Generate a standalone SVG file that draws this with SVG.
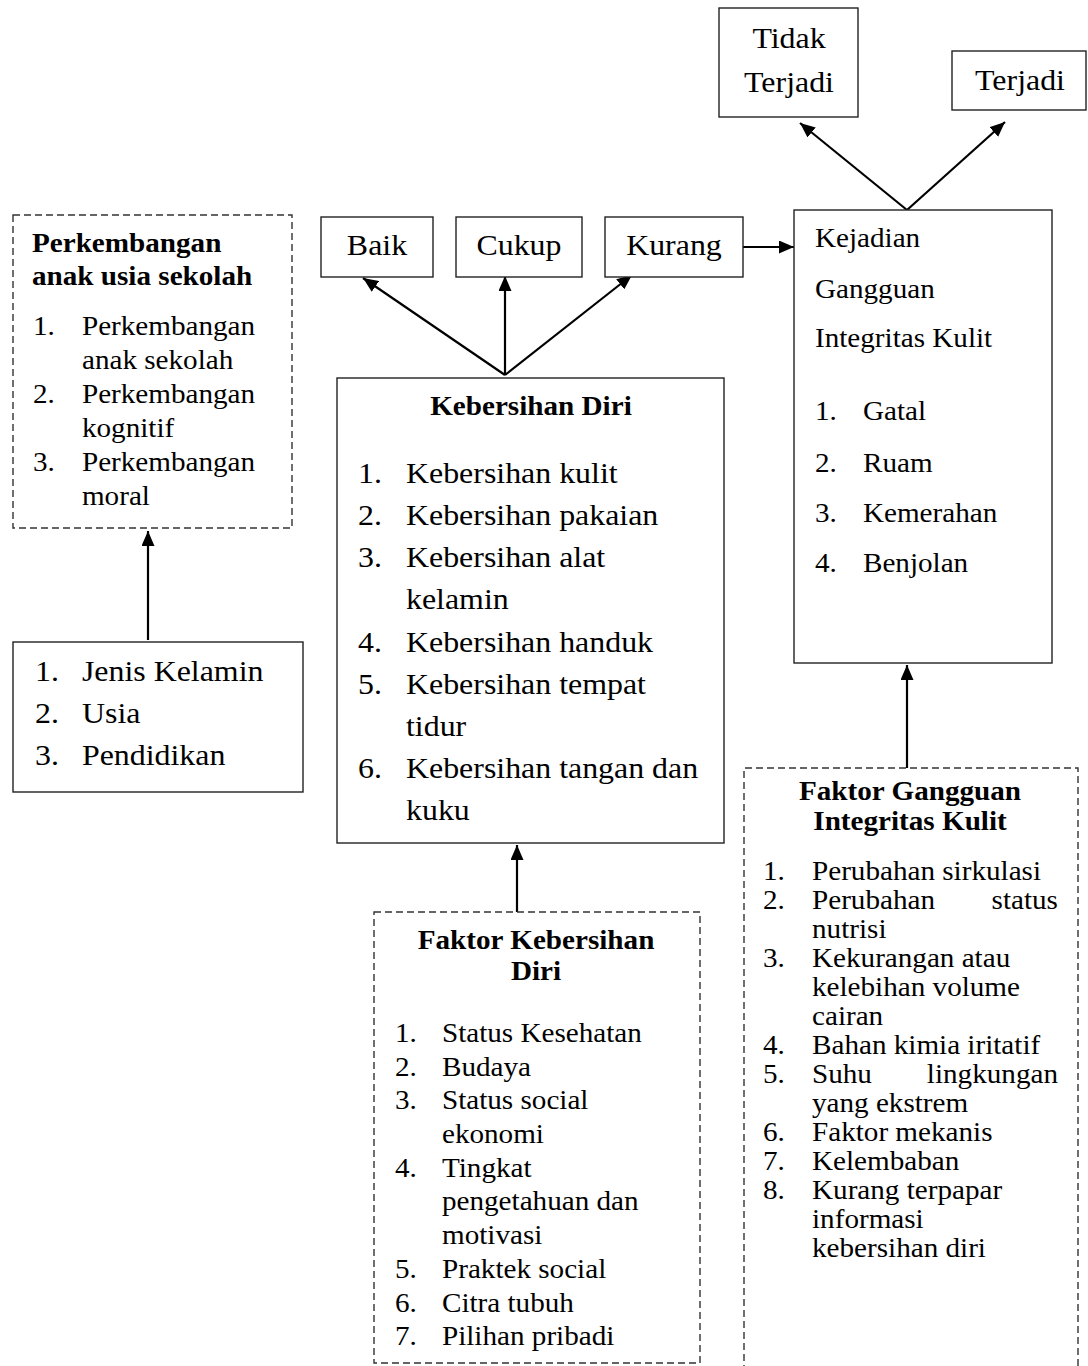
<svg xmlns="http://www.w3.org/2000/svg" width="1088" height="1366" viewBox="0 0 1088 1366">
<style>
.box{fill:#fff;stroke:#222;stroke-width:1.4}
.dash{fill:#fff;stroke:#333;stroke-width:1.4;stroke-dasharray:7 4}
.t{font-family:"Liberation Serif","Times New Roman",serif;fill:#000}
.s29{font-size:29px}
.s26{font-size:26.5px}
.b{font-weight:bold}
.m{text-anchor:middle}
.e{text-anchor:end}
.con{stroke:#000;stroke-width:2.2;fill:none;marker-end:url(#ah)}
</style>
<defs>
<marker id="ah" markerWidth="15" markerHeight="13" refX="15" refY="6.5" orient="auto" markerUnits="userSpaceOnUse">
<path d="M0,0 L15,6.5 L0,13 z" fill="#000"/>
</marker>
</defs>
<rect width="1088" height="1366" fill="#fff"/>

<g id="connectors">
<line class="con" x1="148" y1="640" x2="148" y2="531"/>
<line class="con" x1="505" y1="375" x2="363" y2="278"/>
<line class="con" x1="505" y1="375" x2="505" y2="276"/>
<line class="con" x1="505" y1="375" x2="632" y2="275"/>
<line class="con" x1="743" y1="247" x2="794" y2="247"/>
<line class="con" x1="517" y1="912" x2="517" y2="845"/>
<line class="con" x1="907" y1="768" x2="907" y2="665"/>
<line class="con" x1="907" y1="210" x2="800" y2="123"/>
<line class="con" x1="907" y1="210" x2="1005" y2="122"/>
</g>

<g id="tidak-terjadi">
<rect class="box" x="719" y="8" width="139" height="109"/>
<g transform="scale(1.1 1)" class="t s29 m">
<text x="717.3" y="48">Tidak</text>
<text x="717.3" y="92">Terjadi</text>
</g>
</g>

<g id="terjadi">
<rect class="box" x="952" y="51" width="134" height="59"/>
<g transform="scale(1.1 1)" class="t s29 m">
<text x="927.3" y="90">Terjadi</text>
</g>
</g>

<g id="perkembangan">
<rect class="dash" x="13" y="215" width="279" height="313"/>
<g transform="scale(1.1 1)" class="t s26">
<text class="b" x="29.1" y="252">Perkembangan</text>
<text class="b" x="29.1" y="285">anak usia sekolah</text>
<text x="30" y="335">1.</text><text x="74.5" y="335">Perkembangan</text>
<text x="74.5" y="369">anak sekolah</text>
<text x="30" y="403">2.</text><text x="74.5" y="403">Perkembangan</text>
<text x="74.5" y="437">kognitif</text>
<text x="30" y="471">3.</text><text x="74.5" y="471">Perkembangan</text>
<text x="74.5" y="505">moral</text>
</g>
</g>

<g id="karakteristik">
<rect class="box" x="13" y="642" width="290" height="150"/>
<g transform="scale(1.1 1)" class="t s29">
<text x="31.8" y="681">1.</text><text x="74.5" y="681">Jenis Kelamin</text>
<text x="31.8" y="723">2.</text><text x="74.5" y="723">Usia</text>
<text x="31.8" y="765">3.</text><text x="74.5" y="765">Pendidikan</text>
</g>
</g>

<g id="baik">
<rect class="box" x="321" y="217" width="112" height="60"/>
<g transform="scale(1.1 1)" class="t s29 m"><text x="342.7" y="255">Baik</text></g>
</g>
<g id="cukup">
<rect class="box" x="456" y="217" width="126" height="60"/>
<g transform="scale(1.1 1)" class="t s29 m"><text x="471.8" y="255">Cukup</text></g>
</g>
<g id="kurang">
<rect class="box" x="605" y="217" width="138" height="60"/>
<g transform="scale(1.1 1)" class="t s29 m"><text x="612.7" y="255">Kurang</text></g>
</g>

<g id="kejadian">
<rect class="box" x="794" y="210" width="258" height="453"/>
<g transform="scale(1.1 1)" class="t s26">
<text x="740.9" y="247">Kejadian</text>
<text x="740.9" y="298">Gangguan</text>
<text x="740.9" y="347">Integritas Kulit</text>
<text x="740.9" y="420">1.</text><text x="784.5" y="420">Gatal</text>
<text x="740.9" y="472">2.</text><text x="784.5" y="472">Ruam</text>
<text x="740.9" y="522">3.</text><text x="784.5" y="522">Kemerahan</text>
<text x="740.9" y="572">4.</text><text x="784.5" y="572">Benjolan</text>
</g>
</g>

<g id="kebersihan-diri">
<rect class="box" x="337" y="378" width="387" height="465"/>
<g transform="scale(1.1 1)" class="t s29">
<text class="b s26 m" x="482.7" y="415">Kebersihan Diri</text>
<text x="325.5" y="483">1.</text><text x="369.1" y="483">Kebersihan kulit</text>
<text x="325.5" y="525">2.</text><text x="369.1" y="525">Kebersihan pakaian</text>
<text x="325.5" y="567">3.</text><text x="369.1" y="567">Kebersihan alat</text>
<text x="369.1" y="609">kelamin</text>
<text x="325.5" y="652">4.</text><text x="369.1" y="652">Kebersihan handuk</text>
<text x="325.5" y="694">5.</text><text x="369.1" y="694">Kebersihan tempat</text>
<text x="369.1" y="736">tidur</text>
<text x="325.5" y="778">6.</text><text x="369.1" y="778">Kebersihan tangan dan</text>
<text x="369.1" y="820">kuku</text>
</g>
</g>

<g id="faktor-kebersihan">
<rect class="dash" x="374" y="912" width="326" height="451"/>
<g transform="scale(1.1 1)" class="t s26">
<text class="b m" x="487.3" y="949">Faktor Kebersihan</text>
<text class="b m" x="487.3" y="980">Diri</text>
<text x="359.1" y="1042">1.</text><text x="401.8" y="1042">Status Kesehatan</text>
<text x="359.1" y="1076">2.</text><text x="401.8" y="1076">Budaya</text>
<text x="359.1" y="1109">3.</text><text x="401.8" y="1109">Status social</text>
<text x="401.8" y="1143">ekonomi</text>
<text x="359.1" y="1177">4.</text><text x="401.8" y="1177">Tingkat</text>
<text x="401.8" y="1210">pengetahuan dan</text>
<text x="401.8" y="1244">motivasi</text>
<text x="359.1" y="1278">5.</text><text x="401.8" y="1278">Praktek social</text>
<text x="359.1" y="1312">6.</text><text x="401.8" y="1312">Citra tubuh</text>
<text x="359.1" y="1345">7.</text><text x="401.8" y="1345">Pilihan pribadi</text>
</g>
</g>

<g id="faktor-gangguan">
<path class="dash" d="M744,1372 V768 H1078 V1372"/>
<g transform="scale(1.1 1)" class="t s26">
<text class="b m" x="827.3" y="800">Faktor Gangguan</text>
<text class="b m" x="827.3" y="830">Integritas Kulit</text>
<text x="693.6" y="880">1.</text><text x="738.2" y="880">Perubahan sirkulasi</text>
<text x="693.6" y="909">2.</text><text x="738.2" y="909">Perubahan</text><text class="e" x="961.8" y="909">status</text>
<text x="738.2" y="938">nutrisi</text>
<text x="693.6" y="967">3.</text><text x="738.2" y="967">Kekurangan atau</text>
<text x="738.2" y="996">kelebihan volume</text>
<text x="738.2" y="1025">cairan</text>
<text x="693.6" y="1054">4.</text><text x="738.2" y="1054">Bahan kimia iritatif</text>
<text x="693.6" y="1083">5.</text><text x="738.2" y="1083">Suhu</text><text class="e" x="961.8" y="1083">lingkungan</text>
<text x="738.2" y="1112">yang ekstrem</text>
<text x="693.6" y="1141">6.</text><text x="738.2" y="1141">Faktor mekanis</text>
<text x="693.6" y="1170">7.</text><text x="738.2" y="1170">Kelembaban</text>
<text x="693.6" y="1199">8.</text><text x="738.2" y="1199">Kurang terpapar</text>
<text x="738.2" y="1228">informasi</text>
<text x="738.2" y="1257">kebersihan diri</text>
</g>
</g>
</svg>
